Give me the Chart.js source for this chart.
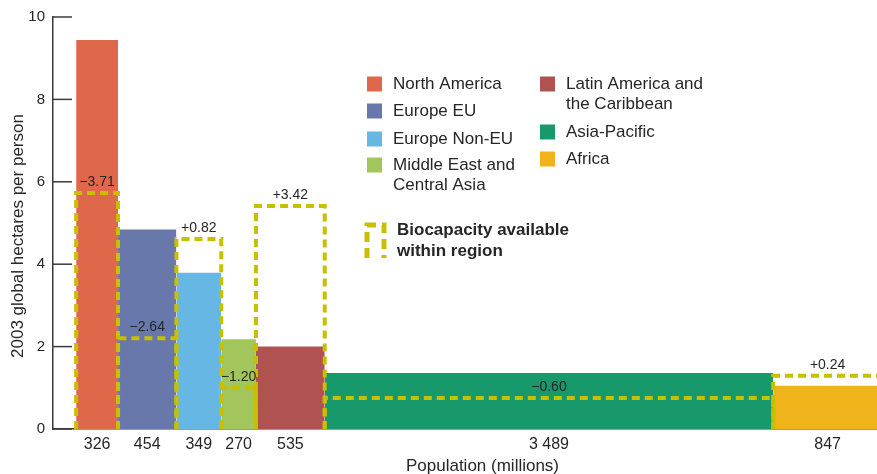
<!DOCTYPE html>
<html>
<head>
<meta charset="utf-8">
<script src="https://cdn.jsdelivr.net/npm/chart.js@4.4.1/dist/chart.umd.min.js"></script>
<style>
  html, body { margin: 0; padding: 0; background: #fff; overflow: hidden; }
  #wrap { width: 912px; height: 474px; }
</style>
</head>
<body>
<div id="wrap"><canvas id="chart" width="912" height="474"></canvas></div>
<script>
// regions, population (millions) and footprint / biocapacity (global ha per person)
const regions = ['North America', 'Europe EU', 'Europe Non-EU', 'Middle East and\nCentral Asia',
  'Latin America and\nthe Caribbean', 'Asia-Pacific', 'Africa'];
const population = [326, 454, 349, 270, 535, 3489, 847];
const footprint = [9.44, 4.84, 3.79, 2.18, 2.0, 1.36, 1.05];
const biocapacity = [5.73, 2.2, 4.61, 1.0, 5.41, 0.75, 1.29];
const balanceLabels = ['\u22123.71', '\u22122.64', '+0.82', '\u22121.20', '+3.42', '\u22120.60', '+0.24'];
const populationLabels = ['326', '454', '349', '270', '535', '3 489', '847'];
const yTicks = [0, 2, 4, 6, 8, 10];

const colors = ['#e0684a', '#6878aa', '#66b7e3', '#a2c65b', '#b05350', '#17996c', '#f1b31b'];
const dashColor = '#c6c000';
const axisColor = '#3a3a3a';
const textColor = '#262626';
const fontFamily = '"Liberation Sans", Arial, Helvetica, sans-serif';

// left edge of each block along the population axis
const starts = [];
let acc = 0;
population.forEach(p => { starts.push(acc); acc += p; });
const centers = starts.map((s, i) => s + population[i] / 2);

const datasets = [];
population.forEach((p, i) => {
  const x0 = starts[i], x1 = starts[i] + p;
  datasets.push({
    label: regions[i],
    data: [{x: x0, y: 0}, {x: x0, y: footprint[i]}, {x: x1, y: footprint[i]}, {x: x1, y: 0}],
    backgroundColor: colors[i],
    borderColor: 'rgba(0,0,0,0)',
    borderWidth: 0,
    pointRadius: 0,
    fill: 'origin',
    tension: 0,
    order: 2
  });
  datasets.push({
    label: 'Biocapacity ' + regions[i],
    data: [{x: x0, y: 0}, {x: x0, y: biocapacity[i]}, {x: x1, y: biocapacity[i]}, {x: x1, y: 0}],
    borderColor: dashColor,
    borderWidth: 4,
    borderDash: [8, 5],
    pointRadius: 0,
    fill: false,
    tension: 0,
    order: 1
  });
});

// labels, legend, inner tick marks, y title
const overlay = {
  id: 'overlay',
  afterDraw(chart) {
    const {ctx, scales: {x, y}} = chart;
    ctx.save();

    ctx.strokeStyle = axisColor;
    ctx.lineWidth = 1.5;
    yTicks.forEach(v => {
      const py = y.getPixelForValue(v);
      ctx.beginPath();
      ctx.moveTo(x.left, py);
      ctx.lineTo(x.left + 19, py);
      ctx.stroke();
    });

    ctx.fillStyle = textColor;
    ctx.font = '14px ' + fontFamily;
    ctx.textAlign = 'center';
    ctx.textBaseline = 'middle';
    balanceLabels.forEach((t, i) => {
      ctx.fillText(t, x.getPixelForValue(centers[i]), y.getPixelForValue(biocapacity[i]) - 11);
    });

    // legend
    const spots = [[367, 84], [367, 111], [367, 139], [367, 165], [540, 84], [540, 132], [540, 159]];
    ctx.font = '17px ' + fontFamily;
    ctx.textAlign = 'left';
    regions.forEach((name, i) => {
      const [lx, ly] = spots[i];
      ctx.fillStyle = colors[i];
      ctx.fillRect(lx, ly - 7.5, 15, 15);
      ctx.fillStyle = textColor;
      name.split('\n').forEach((line, k) => ctx.fillText(line, lx + 26, ly + k * 20));
    });

    ctx.strokeStyle = dashColor;
    ctx.lineWidth = 5;
    ctx.setLineDash([10, 6]);
    ctx.beginPath();
    ctx.moveTo(367, 258);
    ctx.lineTo(367, 225);
    ctx.lineTo(384, 225);
    ctx.lineTo(384, 258);
    ctx.stroke();
    ctx.setLineDash([]);
    ctx.font = 'bold 17px ' + fontFamily;
    ctx.fillText('Biocapacity available', 397, 230);
    ctx.fillText('within region', 397, 251);

    ctx.font = '17px ' + fontFamily;
    ctx.textAlign = 'center';
    ctx.translate(18, 236);
    ctx.rotate(-Math.PI / 2);
    ctx.fillText('2003 global hectares per person', 0, 0);
    ctx.restore();
  }
};

new Chart(document.getElementById('chart'), {
  type: 'line',
  data: { datasets },
  options: {
    responsive: false,
    animation: false,
    layout: { padding: { top: 16, right: 0, bottom: 0, left: 0 } },
    plugins: { legend: { display: false }, tooltip: { enabled: false } },
    scales: {
      x: {
        type: 'linear',
        min: -180,
        max: 6503,
        z: 1,
        afterBuildTicks: scale => { scale.ticks = centers.map(v => ({ value: v })); },
        afterFit: scale => { scale.height = 45; },
        ticks: {
          autoSkip: false,
          maxRotation: 0,
          padding: 6,
          color: textColor,
          font: { family: fontFamily, size: 16 },
          callback: (v, i) => populationLabels[i]
        },
        grid: { drawOnChartArea: false, drawTicks: false },
        border: { display: true, color: axisColor, width: 1.5 },
        title: {
          display: true,
          text: 'Population (millions)',
          color: textColor,
          font: { family: fontFamily, size: 17, lineHeight: 1 },
          padding: { top: 0, bottom: -1 }
        }
      },
      y: {
        min: 0,
        max: 10,
        z: 1,
        afterFit: scale => { scale.width = 53; },
        ticks: {
          stepSize: 2,
          padding: 8,
          color: textColor,
          font: { family: fontFamily, size: 15 }
        },
        grid: { drawOnChartArea: false, drawTicks: false },
        border: { display: true, color: axisColor, width: 1.5 }
      }
    }
  },
  plugins: [overlay]
});
</script>
</body>
</html>
